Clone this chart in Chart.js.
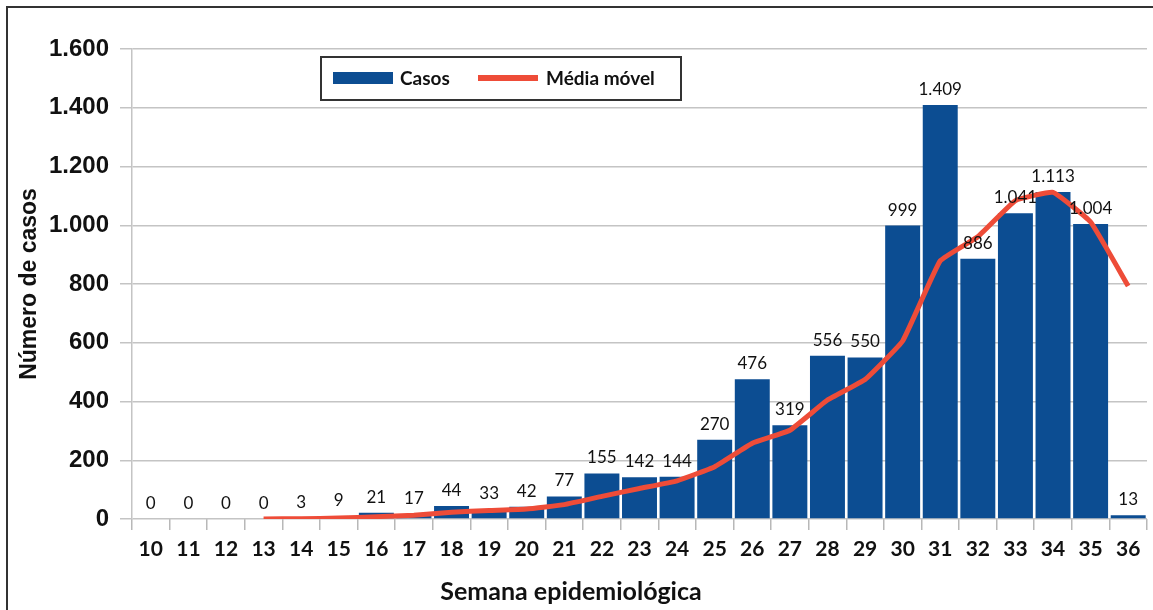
<!DOCTYPE html>
<html>
<head>
<meta charset="utf-8">
<script src="https://cdn.jsdelivr.net/npm/chart.js@4"></script>
<style>
  html, body { margin: 0; padding: 0; background: #fff; }
  #wrap { width: 1153px; height: 610px; }
</style>
</head>
<body>
<div id="wrap"><canvas id="casosCanvas"></canvas></div>
<script>
// Semanas epidemiológicas e casos
const semanas = ["10", "11", "12", "13", "14", "15", "16", "17", "18", "19", "20", "21", "22",
    "23", "24", "25", "26", "27", "28", "29", "30", "31", "32", "33", "34", "35", "36"];
const casos = [0, 0, 0, 0, 3, 9, 21, 17, 44, 33, 42, 77, 155,
    142, 144, 270, 476, 319, 556, 550, 999, 1409, 886, 1041, 1113, 1004, 13];
const mediaMovel = [null, null, null, 0, 1, 3, 8, 13, 23, 29, 34, 49, 77,
    104, 130, 178, 258, 302, 405, 475, 606, 879, 961, 1084, 1112, 1011, 793];
const yTicks = [0, 200, 400, 600, 800, 1000, 1200, 1400, 1600];

const azul = "rgb(12, 77, 146)";
const vermelho = "rgb(238, 76, 56)";

function milhar(v) {
    return String(v).replace(/\B(?=(\d{3})+(?!\d))/g, ".");
}

// moldura, rótulos, legenda e título do eixo x
const extras = {
    id: "extras",
    beforeDraw(chart) {
        const ctx = chart.ctx;
        ctx.save();
        ctx.fillStyle = "#fff";
        ctx.fillRect(0, 0, chart.width, chart.height);
        ctx.strokeStyle = "#333";
        ctx.lineWidth = 2;
        ctx.beginPath();
        ctx.moveTo(7, chart.height);
        ctx.lineTo(7, 7);
        ctx.lineTo(chart.width, 7);
        ctx.stroke();
        ctx.restore();
    },
    afterDatasetsDraw(chart) {
        const ctx = chart.ctx;
        const meta = chart.getDatasetMeta(0);
        ctx.save();
        ctx.font = "17px Lato";
        ctx.fillStyle = "#111";
        ctx.textAlign = "center";
        ctx.textBaseline = "alphabetic";
        meta.data.forEach((bar, i) => {
            ctx.fillText(milhar(casos[i]), bar.x, bar.y - 10);
        });
        ctx.restore();
    },
    afterDraw(chart) {
        const ctx = chart.ctx;
        ctx.save();
        // legenda
        ctx.fillStyle = "#fff";
        ctx.fillRect(321, 57, 360, 43);
        ctx.strokeStyle = "#333";
        ctx.lineWidth = 2;
        ctx.strokeRect(321, 57, 360, 43);
        ctx.fillStyle = azul;
        ctx.fillRect(333, 72, 60, 12);
        ctx.strokeStyle = vermelho;
        ctx.lineWidth = 6;
        ctx.beginPath();
        ctx.moveTo(478, 78);
        ctx.lineTo(538, 78);
        ctx.stroke();
        ctx.fillStyle = "#111";
        ctx.font = "bold 19px Lato";
        ctx.textBaseline = "middle";
        ctx.textAlign = "left";
        ctx.fillText(chart.data.datasets[0].label, 400, 79);
        ctx.fillText(chart.data.datasets[1].label, 546, 79);
        // título do eixo x
        ctx.font = "bold 25px Lato";
        ctx.textAlign = "center";
        ctx.fillText("Semana epidemiológica", 571, 592);
        ctx.restore();
    }
};

const casosCanvas = document.getElementById("casosCanvas");

const casosChart = new Chart(casosCanvas, {
    type: "bar",
    data: {
        labels: semanas,
        datasets: [
            {
                label: "Casos",
                data: casos,
                backgroundColor: azul,
                borderWidth: 0,
                categoryPercentage: 0.93,
                barPercentage: 1,
                order: 1,
            },
            {
                type: "line",
                label: "Média móvel",
                data: mediaMovel,
                borderColor: vermelho,
                backgroundColor: vermelho,
                borderWidth: 5,
                pointRadius: 0,
                tension: 0.1,
                order: 0,
            },
        ],
    },
    options: {
        responsive: true,
        maintainAspectRatio: false,
        animation: false,
        layout: { padding: { top: 49, right: 6, left: 0, bottom: 0 } },
        plugins: {
            legend: { display: false },
            tooltip: { enabled: false },
        },
        scales: {
            x: {
                offset: true,
                afterFit(scale) { scale.height = 91; },
                grid: {
                    offset: true,
                    drawOnChartArea: false,
                    drawTicks: true,
                    tickLength: 11,
                    color: "#b8b8b8",
                    lineWidth: 1.5,
                },
                border: { display: false },
                ticks: {
                    padding: 7,
                    color: "#111",
                    font: { family: "Lato", weight: "bold", size: 21 },
                    maxRotation: 0,
                    autoSkip: false,
                },
            },
            y: {
                min: 0,
                max: 1600,
                afterFit(scale) { scale.width = 132; },
                afterBuildTicks(scale) {
                    scale.ticks = yTicks.map(v => ({ value: v }));
                },
                grid: {
                    color: "#c4c4c4",
                    lineWidth: 1.5,
                    tickLength: 12,
                },
                border: { color: "#c4c4c4", width: 1.5 },
                ticks: {
                    padding: 11,
                    color: "#111",
                    font: { family: "Liberation Sans", weight: "bold", size: 24 },
                    callback: v => milhar(v),
                },
                title: {
                    display: true,
                    text: "Número de casos",
                    color: "#111",
                    font: { family: "Liberation Sans", weight: "bold", size: 23 },
                    padding: { top: 16, bottom: 0 },
                },
            },
        },
    },
    plugins: [extras],
});
</script>
</body>
</html>
